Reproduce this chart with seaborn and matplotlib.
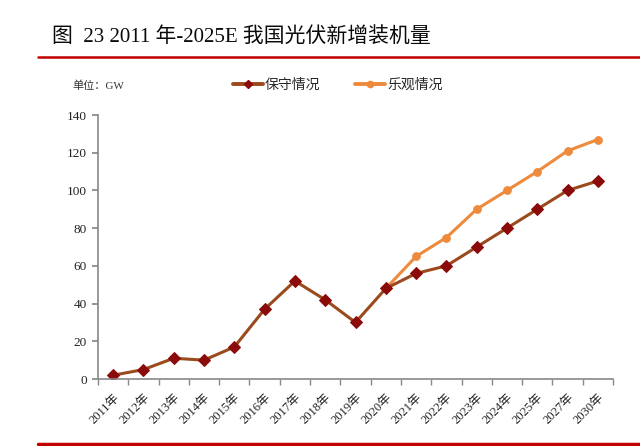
import pandas as pd
import matplotlib
matplotlib.use("Agg")
import matplotlib.pyplot as plt
import seaborn as sns
from matplotlib.lines import Line2D

# 数据
years = ['2011年', '2012年', '2013年', '2014年', '2015年', '2016年', '2017年', '2018年',
         '2019年', '2020年', '2021年', '2022年', '2023年', '2024年', '2025年', '2027年', '2030年']
conservative = [2, 5, 11, 10, 17, 37, 52, 42, 30, 48, 56, 60, 70, 80, 90, 100, 105]
optimistic_years = ['2020年', '2021年', '2022年', '2023年', '2024年', '2025年', '2027年', '2030年']
optimistic = [48, 65, 75, 90, 100, 110, 121, 127]
yticks = [0, 20, 40, 60, 80, 100, 120, 140]

sns.set_theme(style="white")
plt.rcParams['font.family'] = ['Liberation Serif', 'Noto Sans CJK SC', 'DejaVu Sans']

df_c = pd.DataFrame({'pos': range(len(years)), 'value': conservative})
df_o = pd.DataFrame({'pos': [years.index(y) for y in optimistic_years], 'value': optimistic})

c_line = '#9A4A1C'
c_mark = '#8B0A0A'
o_line = '#EE8A3C'

fig = plt.figure(figsize=(6.4, 4.46), dpi=100)
ax = fig.add_axes([98 / 640, 1 - 379 / 446, 515 / 640, 264 / 446])

sns.lineplot(data=df_o, x='pos', y='value', ax=ax, color=o_line, linewidth=2.2,
             marker='o', markersize=5.5, markerfacecolor=o_line, markeredgecolor=o_line)
sns.lineplot(data=df_c, x='pos', y='value', ax=ax, color=c_line, linewidth=2.2,
             marker='D', markersize=6, markerfacecolor=c_mark, markeredgecolor=c_mark)

ax.set_xlim(-0.5, len(years) - 0.5)
ax.set_ylim(0, 140)
ax.set_yticks(yticks)
ax.set_yticklabels([str(v) for v in yticks], fontsize=9.5, color='#222222')
ax.set_xticks(range(len(years)))
ax.set_xticklabels(years, rotation=45, ha='right', rotation_mode='anchor', fontsize=9, color='#222222')
ax.set_xticks([i + 0.5 for i in range(-1, len(years))], minor=True)
ax.tick_params(axis='x', which='major', length=0, pad=9)
ax.tick_params(axis='x', which='minor', length=4, color='#888888', direction='out', bottom=True)
ax.tick_params(axis='y', length=4, color='#888888', direction='out', left=True, pad=4)
ax.set_xlabel('')
ax.set_ylabel('')
for s in ['top', 'right']:
    ax.spines[s].set_visible(False)
for s in ['left', 'bottom']:
    ax.spines[s].set_color('#888888')
    ax.spines[s].set_linewidth(1.2)

# 标题与红线
fig.text(52 / 640, 1 - 37 / 446, '图  23 2011 年-2025E 我国光伏新增装机量', fontsize=15,
         fontweight='normal', va='center', ha='left', color='#0a0a0a')
fig.add_artist(Line2D([38 / 640, 1], [1 - 57 / 446, 1 - 57 / 446], color='#C00000', linewidth=1.8))
fig.add_artist(Line2D([38 / 640, 1], [1 - 444 / 446, 1 - 444 / 446], color='#C00000', linewidth=2.5))

fig.text(72 / 640, 1 - 86 / 446, '单位：GW', fontsize=8, va='center', ha='left', color='#333333')

handles = [
    Line2D([0], [0], color=c_line, linewidth=2.8, marker='D', markersize=4.5,
           markerfacecolor=c_mark, markeredgecolor=c_mark),
    Line2D([0], [0], color=o_line, linewidth=2.8, marker='o', markersize=4.5,
           markerfacecolor=o_line, markeredgecolor=o_line),
]
fig.legend(handles, ['保守情况', '乐观情况'], loc='center left',
           bbox_to_anchor=(233 / 640, 1 - 85 / 446), ncol=2, frameon=False,
           fontsize=10, handlelength=2.15, handletextpad=0.15, columnspacing=2.5,
           borderpad=0, borderaxespad=0)

fig.savefig('out.png', dpi=100)
